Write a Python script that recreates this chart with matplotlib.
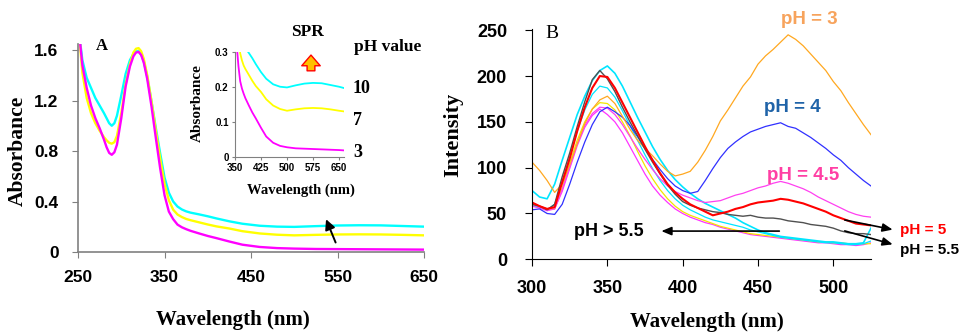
import matplotlib
matplotlib.use("Agg")
import matplotlib.pyplot as plt
from matplotlib.patches import FancyArrowPatch

# ---- panel A : absorbance spectra ----
wl_a = [250, 252.5, 255, 260, 265, 270, 275, 280, 283, 286, 289, 292, 295, 300, 305,
        310, 314, 317, 320, 323, 326, 330, 335, 340, 345, 350, 355, 360, 365, 370,
        375, 380, 390, 400, 410, 425, 440, 460, 480, 500, 525, 550, 575, 600, 625, 650, 665]
abs_ph10 = [1.95, 1.66, 1.52, 1.38, 1.30, 1.22, 1.16, 1.10, 1.06, 1.02, 1.00, 1.02, 1.08, 1.24, 1.41,
            1.52, 1.57, 1.59, 1.59, 1.565, 1.51, 1.39, 1.19, 0.98, 0.78, 0.59, 0.47, 0.40, 0.36, 0.337,
            0.322, 0.312, 0.298, 0.283, 0.266, 0.243, 0.224, 0.208, 0.201, 0.199, 0.205, 0.210, 0.212,
            0.211, 0.206, 0.201, 0.197]
abs_ph7 = [1.95, 1.62, 1.42, 1.22, 1.10, 1.02, 0.96, 0.91, 0.885, 0.865, 0.858, 0.87, 0.92, 1.10, 1.33,
           1.49, 1.58, 1.61, 1.615, 1.59, 1.53, 1.40, 1.19, 0.96, 0.74, 0.54, 0.41, 0.335, 0.297, 0.277,
           0.262, 0.252, 0.235, 0.218, 0.203, 0.186, 0.165, 0.147, 0.137, 0.132, 0.136, 0.139, 0.140,
           0.139, 0.136, 0.132, 0.130]
abs_ph3 = [1.95, 1.65, 1.48, 1.30, 1.16, 1.06, 0.98, 0.89, 0.83, 0.785, 0.77, 0.79, 0.85, 1.06, 1.31,
           1.47, 1.55, 1.58, 1.585, 1.56, 1.50, 1.37, 1.15, 0.90, 0.66, 0.45, 0.32, 0.26, 0.217, 0.196,
           0.181, 0.168, 0.147, 0.127, 0.110, 0.083, 0.058, 0.040, 0.031, 0.027, 0.024, 0.023, 0.022,
           0.021, 0.020, 0.019, 0.018]

# ---- panel B : fluorescence spectra ----
wl_b = [300, 305, 310, 315, 320, 325, 330, 335, 340, 345, 350, 355, 360, 365, 370, 375,
        380, 385, 390, 395, 400, 405, 410, 415, 420, 425, 430, 435, 440, 445, 450, 455,
        460, 465, 470, 475, 480, 485, 490, 495, 500, 505, 510, 515, 520, 525]
int_ph3 = [106, 97, 86, 73, 82, 103, 126, 148, 164, 174, 178, 170, 156, 142, 130, 121,
           113, 104, 96, 91, 93, 96, 106, 119, 134, 151, 163, 176, 189, 199, 213, 222,
           229, 237, 245, 240, 233, 224, 215, 206, 194, 184, 171, 159, 147, 136]
int_ph4 = [54, 55, 50, 49, 60, 82, 106, 128, 147, 161, 166, 161, 155, 146, 134, 121,
           109, 98, 88, 80, 75, 72, 74, 86, 99, 111, 121, 128, 134, 139, 142, 145,
           147, 149, 145, 143, 138, 133, 127, 121, 114, 108, 100, 93, 86, 80]
int_ph45 = [58, 56, 53, 55, 76, 101, 126, 146, 159, 166, 165, 158, 147, 134, 121, 109,
            98, 88, 80, 74, 70, 67, 64, 62, 63, 64, 67, 70, 72, 75, 78, 80,
            83, 85, 83, 80, 77, 73, 68, 64, 60, 56, 52, 49, 47, 46]
int_ph5 = [62, 58, 55, 57, 84, 110, 140, 166, 187, 200, 199, 187, 171, 155, 139, 123,
           108, 94, 82, 73, 66, 60, 56, 52, 48, 50, 52, 55, 57, 60, 62, 63,
           64, 66, 65, 63, 61, 58, 55, 52, 48, 45, 42, 39, 38, 37]
int_ph55 = [60, 58, 54, 60, 90, 116, 145, 172, 196, 206, 197, 183, 166, 150, 135, 120,
            106, 93, 81, 71, 63, 59, 56, 54, 52, 51, 49, 48, 47, 48, 46, 45,
            45, 44, 42, 41, 40, 38, 37, 36, 34, 31, 29, 28, 28, 27]
int_cyan1 = [75, 68, 66, 82, 108, 133, 158, 178, 195, 206, 211, 203, 189, 172, 155, 139,
             123, 109, 97, 87, 79, 72, 66, 61, 57, 53, 49, 45, 40, 36, 32, 29,
             27, 25, 24, 23, 22, 21, 20, 19, 19, 18, 17, 17, 18, 34]
int_cyan2 = [58, 57, 54, 60, 85, 112, 140, 163, 180, 189, 187, 177, 162, 146, 130, 114,
             99, 86, 75, 66, 59, 54, 50, 46, 43, 41, 39, 37, 35, 32, 30, 28,
             26, 24, 23, 22, 21, 20, 19, 18, 18, 17, 16, 16, 17, 20]
int_yellow = [60, 58, 55, 55, 78, 105, 130, 150, 164, 171, 170, 163, 150, 135, 118, 102,
              88, 76, 66, 58, 52, 48, 45, 42, 39, 36, 34, 32, 30, 28, 27, 26,
              25, 24, 23, 22, 21, 20, 19, 19, 18, 18, 17, 17, 17, 17]
int_magenta = [60, 58, 55, 55, 74, 99, 124, 144, 157, 164, 158, 150, 138, 123, 108, 93,
               80, 70, 62, 55, 50, 46, 43, 40, 38, 35, 33, 31, 29, 27, 26, 25,
               24, 23, 22, 21, 20, 19, 18, 18, 17, 16, 16, 15, 16, 18]

serif = "Liberation Serif"
sans = "Liberation Sans"

fig = plt.figure(figsize=(9.67, 3.33), dpi=100)

# ================= panel A =================
axA = fig.add_axes([0.0807, 0.2432, 0.3578, 0.6256])
axA.plot(wl_a, abs_ph10, color="#00ffff", lw=1.7)
axA.plot(wl_a, abs_ph7, color="#ffff00", lw=1.7)
axA.plot(wl_a, abs_ph3, color="#ff00ff", lw=1.7)
axA.set_xlim(250, 650)
axA.set_ylim(0, 1.65)
axA.set_xticks([250, 350, 450, 550, 650])
axA.set_yticks([0, 0.4, 0.8, 1.2, 1.6])
axA.set_yticklabels(["0", "0.4", "0.8", "1.2", "1.6"])
for s in ["top", "right"]:
    axA.spines[s].set_visible(False)
for s in ["left", "bottom"]:
    axA.spines[s].set_color("#808080")
    axA.spines[s].set_linewidth(1.2)
axA.tick_params(axis="x", direction="out", length=4, color="#808080", pad=9)
axA.tick_params(axis="y", direction="out", length=4, color="#808080", pad=10)
for lab in axA.get_xticklabels() + axA.get_yticklabels():
    lab.set_fontfamily(sans)
    lab.set_fontweight("bold")
    lab.set_fontsize(12.5)
axA.text(277.5, 1.63, "A", fontfamily=serif, fontweight="bold", fontsize=12,
         ha="center", va="center")
axA.annotate("", xy=(535.5, 0.28), xytext=(549, 0.055),
             arrowprops=dict(arrowstyle="-|>,head_width=0.3,head_length=0.6",
                             color="black", lw=1.4))
fig.text(0.2404, 0.039, "Wavelength (nm)", fontfamily=serif, fontweight="bold",
         fontsize=15, ha="center", va="center")
fig.text(0.0186, 0.547, "Absorbance", fontfamily=serif, fontweight="bold",
         fontsize=15.5, ha="center", va="center", rotation=90)

# inset of panel A
axI = fig.add_axes([0.243, 0.5295, 0.113, 0.3135])
axI.plot(wl_a, abs_ph10, color="#00ffff", lw=1.3)
axI.plot(wl_a, abs_ph7, color="#ffff00", lw=1.3)
axI.plot(wl_a, abs_ph3, color="#ff00ff", lw=1.3)
axI.set_xlim(350, 665)
axI.set_ylim(0, 0.3)
axI.set_xticks([350, 425, 500, 575, 650])
axI.set_yticks([0, 0.1, 0.2, 0.3])
axI.set_yticklabels(["0", "0.1", "0.2", "0.3"])
for s in ["top", "right"]:
    axI.spines[s].set_visible(False)
for s in ["left", "bottom"]:
    axI.spines[s].set_color("#808080")
axI.tick_params(direction="out", length=2.5, color="#808080", pad=2)
for lab in axI.get_xticklabels() + axI.get_yticklabels():
    lab.set_fontfamily(sans)
    lab.set_fontweight("bold")
    lab.set_fontsize(7)
fig.text(0.3108, 0.429, "Wavelength (nm)", fontfamily=serif, fontweight="bold",
         fontsize=10.5, ha="center", va="center")
fig.text(0.2037, 0.692, "Absorbance", fontfamily=serif, fontweight="bold",
         fontsize=11, ha="center", va="center", rotation=90)
fig.text(0.3185, 0.904, "SPR", fontfamily=serif, fontweight="bold", fontsize=12.5,
         ha="center", va="center")
fig.text(0.4012, 0.859, "pH value", fontfamily=serif, fontweight="bold", fontsize=12.5,
         ha="center", va="center")
for lbl, yy in [("10", 0.733), ("7", 0.637), ("3", 0.541)]:
    fig.text(0.365, yy, lbl, fontfamily=serif, fontweight="bold", fontsize=13,
             ha="left", va="center")
fig.patches.append(FancyArrowPatch(
    (0.3216, 0.779), (0.3216, 0.843), transform=fig.transFigure,
    arrowstyle="simple,head_width=0.95,head_length=0.55,tail_width=0.4",
    mutation_scale=14, fc="#ffc000", ec="#ff0000", lw=1.0))

# ================= panel B =================
axB = fig.add_axes([0.5502, 0.2213, 0.3505, 0.6907])
axB.plot(wl_b, int_magenta, color="#ff33ff", lw=0.9)
axB.plot(wl_b, int_yellow, color="#f2e600", lw=0.9)
axB.plot(wl_b, int_cyan2, color="#00e5ff", lw=0.9)
axB.plot(wl_b, int_cyan1, color="#00e5ff", lw=1.2)
axB.plot(wl_b, int_ph45, color="#ff40f0", lw=0.9)
axB.plot(wl_b, int_ph4, color="#3030ff", lw=0.9)
axB.plot(wl_b, int_ph3, color="#ffa820", lw=0.9)
axB.plot(wl_b, int_ph55, color="#505050", lw=1.0)
axB.plot(wl_b, int_ph5, color="#ff0000", lw=1.5)
axB.set_xlim(300, 525)
axB.set_ylim(0, 251)
axB.set_xticks([300, 350, 400, 450, 500])
axB.set_yticks([0, 50, 100, 150, 200, 250])
for s in ["top", "right"]:
    axB.spines[s].set_visible(False)
axB.tick_params(axis="x", direction="out", length=5, pad=10)
axB.tick_params(axis="y", direction="out", length=5, pad=13)
for lab in axB.get_xticklabels() + axB.get_yticklabels():
    lab.set_fontfamily(sans)
    lab.set_fontweight("bold")
    lab.set_fontsize(13)
axB.text(313.3, 246, "B", fontfamily=serif, fontsize=14, ha="center", va="center")
fig.text(0.731, 0.032, "Wavelength (nm)", fontfamily=serif, fontweight="bold",
         fontsize=15, ha="center", va="center")
fig.text(0.4685, 0.595, "Intensity", fontfamily=serif, fontweight="bold",
         fontsize=16, ha="center", va="center", rotation=90)

axB.text(484, 262, "pH = 3", color="#f7a35c", fontfamily=sans, fontweight="bold",
         fontsize=13.5, ha="center", va="center")
axB.text(472.5, 166, "pH = 4", color="#1f63a8", fontfamily=sans, fontweight="bold",
         fontsize=13.5, ha="center", va="center")
axB.text(480, 92, "pH = 4.5", color="#ff3fa4", fontfamily=sans, fontweight="bold",
         fontsize=13.5, ha="center", va="center")
axB.text(544, 31.8, "pH = 5", color="#ff0000", fontfamily=sans, fontweight="bold",
         fontsize=11, ha="left", va="center")
axB.text(544, 10, "pH = 5.5", color="black", fontfamily=sans, fontweight="bold",
         fontsize=11, ha="left", va="center")
axB.text(350.7, 30.8, "pH > 5.5", color="black", fontfamily=sans, fontweight="bold",
         fontsize=13, ha="center", va="center")
axB.annotate("", xy=(384, 30.8), xytext=(466, 30.8),
             arrowprops=dict(arrowstyle="-|>,head_width=0.25,head_length=0.6",
                             color="black", lw=1.2))
axB.annotate("", xy=(541.2, 31.8), xytext=(505.8, 43.5), annotation_clip=False,
             arrowprops=dict(arrowstyle="-|>,head_width=0.25,head_length=0.6",
                             color="black", lw=1.2))
axB.annotate("", xy=(541.2, 15.5), xytext=(505.8, 31.8), annotation_clip=False,
             arrowprops=dict(arrowstyle="-|>,head_width=0.25,head_length=0.6",
                             color="black", lw=1.2))

fig.savefig("out.png", dpi=100)
